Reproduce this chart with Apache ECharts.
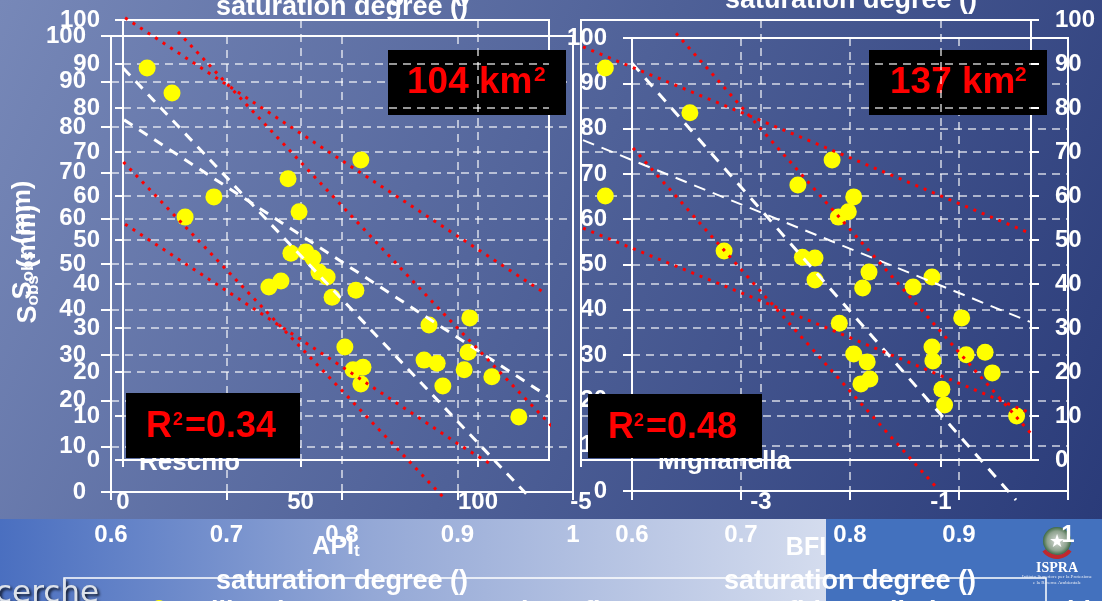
<!DOCTYPE html>
<html><head><meta charset="utf-8">
<script src="https://cdn.jsdelivr.net/npm/echarts@6/dist/echarts.min.js"></script>
<style>html,body{margin:0;padding:0;background:#2a3b78;overflow:hidden}#c{width:1102px;height:601px}</style>
</head><body><div id="c"></div>
<script>
// ---------- data ----------
// Reschio (left): API_t vs S_obs (mm)
const leftApi  = [6.8,13.8,17.5,25.6,46.5,49.6,67.0,47.3,51.5,53.5,55.2,57.5,44.5,41.1,58.9,65.6,62.5,64.8,67.6,67.0,86.2,97.7,84.8,88.5,97.2,96.1,90.1,103.9,111.5];
const leftSobs = [89.1,83.4,55.2,59.8,63.9,56.4,68.2,47.0,47.3,45.9,42.7,41.6,40.7,39.3,37.0,38.6,25.7,20.5,21.1,17.3,30.7,32.3,22.7,22.0,24.5,20.5,16.8,18.9,9.8];
// Miglianella (right): BFI vs S_obs (mm)
const rightBfi  = [-4.73,-3.79,-4.73,-3.41,-2.59,-2.21,-1.97,-2.03,-2.14,-2.54,-2.40,-2.40,-1.80,-1.87,-1.31,-1.10,-0.77,-2.13,-1.97,-1.82,-1.79,-1.89,-1.10,-1.09,-0.72,-0.51,-0.43,-0.99,-0.96,-0.16];
const rightSobs = [89.1,78.9,60.0,47.5,62.5,68.2,59.8,56.4,55.2,46.1,45.9,40.9,42.7,39.1,39.3,41.6,32.3,31.1,24.1,22.3,18.4,17.3,25.7,22.5,23.9,24.5,19.8,16.1,12.5,10.0];

// best-fit lines (white dashed) and 95% confidence limits (red dotted)
const leftFitA_x = [-3.4, 114.4],  leftFitA_y = [92.0, -8.4];
const leftFitB_x = [0.3, 120.0],   leftFitB_y = [77.3, 14.3];
const leftConf1_x = [0.6, 58.0, 118.3],        leftConf1_y = [100.5, 70.0, 38.2];
const leftConf2_x = [15.5, 47.6, 88.5, 125.9], leftConf2_y = [97.3, 69.8, 34.8, 3.4];
const leftConf3_x = [0.6, 55.5, 94.9, 103.9],  leftConf3_y = [53.6, 24.5, 3.4, -1.1];
const leftConf4_x = [-3.4, 25.4, 62.0, 90.4],  leftConf4_y = [70.7, 46.4, 15.5, -8.6];

const rightFitA_x = [-4.433, -0.167], rightFitA_y = [90.2, -9.1];
const rightFitB_x = [-4.978, -0.011], rightFitB_y = [72.7, 31.4];
const rightConf1_x = [-4.978, -2.478, -0.044], rightConf1_y = [93.9, 72.7, 51.8];
const rightConf2_x = [-3.944, -1.233, 0.389],  rightConf2_y = [97.0, 34.5, -3.0];
const rightConf3_x = [-4.978, -2.478, -0.011], rightConf3_y = [52.7, 31.8, 10.7];
const rightConf4_x = [-4.422, -2.789, -1.044], rightConf4_y = [70.9, 33.4, -6.4];

// axis ranges / tick steps
const satRange = [0.6, 1.0], satStep = 0.1;
const apiRange = [0, 120],   apiStep = 50;
const bfiRange = [-5, 0],    bfiStep = 2;
const sRange = [0, 100],     sStep = 10;

// text
const satName = 'saturation degree ()';
const areaLeft = '104 km', areaRight = '137 km';
const r2Left = '=0.34', r2Right = '=0.48';

// ---------- chart ----------
const FONT = '"Liberation Sans", Arial, sans-serif';
const pairs = (xs, ys) => xs.map((x, i) => [x, ys[i]]);
const gridLine = {show:true, showMinLine:false, showMaxLine:false,
  lineStyle:{color:'rgba(255,255,255,0.78)', width:1.5, type:[8,6]}};
const lbl = (margin, extra) => Object.assign({color:'#fff', fontSize:24, fontWeight:'bold', fontFamily:FONT, margin:margin}, extra || {});
const tick = len => ({show:true, inside:false, length:len, lineStyle:{color:'#fff', width:2}});
const noLine = {show:false, onZero:false};
const nameStyle = {color:'#fff', fontSize:27, fontWeight:'bold', fontFamily:FONT};
const sobsName = {
  name:'{s|S}{b|obs}{m| (mm)}', nameLocation:'middle', nameRotate:90,
  nameTextStyle:{color:'#fff', fontFamily:FONT, fontWeight:'bold', fontSize:26, rich:{
    s:{color:'#fff', fontFamily:FONT, fontWeight:'bold', fontSize:27, lineHeight:27, verticalAlign:'top'},
    b:{color:'#fff', fontFamily:FONT, fontWeight:'bold', fontSize:17, lineHeight:17, verticalAlign:'bottom'},
    m:{color:'#fff', fontFamily:FONT, fontWeight:'bold', fontSize:26, lineHeight:27, verticalAlign:'top'}
  }}
};

const gridBase = {show:true, borderColor:'#fff', borderWidth:2, backgroundColor:'transparent', containLabel:false, outerBoundsMode:'none'};

const dashWhite = (w, d) => ({color:'#fff', width:w, type:d, cap:'butt'});
const dotRed = {color:'#ff0000', width:3, type:[3,6], cap:'butt'};
function lineSeries(xi, xs, ys, style){
  return {type:'line', xAxisIndex:xi, yAxisIndex:xi, data:pairs(xs, ys), symbol:'none', clip:false,
    silent:true, z:6, lineStyle:style, animation:false};
}

function txt(x, y, text, font, fill, align, z, extra){
  return {type:'text', x:x, y:y, z:z || 0, silent:true, style:Object.assign({
    text:text, font:font, fill:fill, align:align || 'left', textAlign:align || 'left',
    verticalAlign:'middle', textVerticalAlign:'middle'}, extra || {})};
}
function box(x, y, w, h, z){
  return {type:'rect', z:z, silent:true, shape:{x:x, y:y, width:w, height:h}, style:{fill:'#000'}};
}

const G = echarts.graphic;
const option = {
  animation:false,
  backgroundColor:'#2a3b78',
  grid:[
    Object.assign({left:111, top:36, width:462, height:456}, gridBase),  // left saturation
    Object.assign({left:123, top:20, width:426, height:440}, gridBase),  // left API
    Object.assign({left:632, top:38, width:436, height:453}, gridBase),  // right saturation
    Object.assign({left:581, top:20, width:450, height:440}, gridBase)   // right BFI
  ],
  xAxis:[
    {gridIndex:0, type:'value', min:satRange[0], max:satRange[1], interval:satStep, z:1,
      axisLine:noLine, axisTick:tick(8), axisLabel:lbl(31), splitLine:gridLine,
      name:satName, nameLocation:'middle', nameGap:76, nameTextStyle:nameStyle},
    {gridIndex:1, type:'value', min:apiRange[0], max:apiRange[1], interval:apiStep, z:3,
      axisLine:noLine, axisTick:tick(7), axisLabel:lbl(30, {showMaxLabel:false}), splitLine:gridLine,
      name:'{a|API}{t|t}', nameLocation:'middle', nameGap:75,
      nameTextStyle:{color:'#fff', fontFamily:FONT, fontWeight:'bold', fontSize:25, rich:{
        a:{color:'#fff', fontFamily:FONT, fontWeight:'bold', fontSize:25, lineHeight:25, verticalAlign:'top'},
        t:{color:'#fff', fontFamily:FONT, fontWeight:'bold', fontSize:17, lineHeight:17, verticalAlign:'bottom', padding:[10,0,0,0]}
      }}},
    {gridIndex:2, type:'value', min:satRange[0], max:satRange[1], interval:satStep, z:1,
      axisLine:noLine, axisTick:tick(9), axisLabel:lbl(32), splitLine:gridLine,
      name:satName, nameLocation:'middle', nameGap:77, nameTextStyle:nameStyle},
    {gridIndex:3, type:'value', min:bfiRange[0], max:bfiRange[1], interval:bfiStep, z:3,
      axisLine:noLine, axisTick:tick(7), axisLabel:lbl(30, {showMaxLabel:false}), splitLine:gridLine,
      name:'BFI', nameLocation:'middle', nameGap:76, nameTextStyle:Object.assign({}, nameStyle, {fontSize:25})}
  ],
  yAxis:[
    Object.assign({gridIndex:0, type:'value', min:sRange[0], max:sRange[1], interval:sStep, z:1,
      axisLine:noLine, axisTick:tick(10), axisLabel:lbl(25), splitLine:gridLine, nameGap:63}, sobsName),
    Object.assign({gridIndex:1, type:'value', min:sRange[0], max:sRange[1], interval:sStep, z:3,
      axisLine:noLine, axisTick:tick(8), axisLabel:lbl(23), splitLine:gridLine, nameGap:86}, sobsName),
    {gridIndex:2, type:'value', min:sRange[0], max:sRange[1], interval:sStep, z:1,
      axisLine:noLine, axisTick:tick(9), axisLabel:lbl(25), splitLine:gridLine},
    {gridIndex:3, type:'value', position:'right', min:sRange[0], max:sRange[1], interval:sStep, z:3,
      axisLine:noLine, axisTick:tick(8), axisLabel:lbl(24), splitLine:gridLine}
  ],
  series:[
    {type:'scatter', xAxisIndex:1, yAxisIndex:1, data:pairs(leftApi, leftSobs), symbolSize:17, z:5,
      itemStyle:{color:'#ffff00', opacity:1}, silent:true},
    {type:'scatter', xAxisIndex:3, yAxisIndex:3, data:pairs(rightBfi, rightSobs), symbolSize:17, z:5,
      itemStyle:{color:'#ffff00', opacity:1}, silent:true},
    lineSeries(1, leftFitA_x, leftFitA_y, dashWhite(3, [10,8])),
    lineSeries(1, leftFitB_x, leftFitB_y, dashWhite(3, [10,8])),
    lineSeries(1, leftConf1_x, leftConf1_y, dotRed),
    lineSeries(1, leftConf2_x, leftConf2_y, dotRed),
    lineSeries(1, leftConf3_x, leftConf3_y, dotRed),
    lineSeries(1, leftConf4_x, leftConf4_y, dotRed),
    lineSeries(3, rightFitA_x, rightFitA_y, dashWhite(3, [11,9])),
    lineSeries(3, rightFitB_x, rightFitB_y, dashWhite(2, [12,8])),
    lineSeries(3, rightConf1_x, rightConf1_y, dotRed),
    lineSeries(3, rightConf2_x, rightConf2_y, dotRed),
    lineSeries(3, rightConf3_x, rightConf3_y, dotRed),
    lineSeries(3, rightConf4_x, rightConf4_y, dotRed)
  ],
  graphic:{elements:[
    // slide background and bottom band
    {type:'rect', z:-20, silent:true, shape:{x:0, y:0, width:1102, height:519},
      style:{fill:new G.LinearGradient(0, 0, 1, 1, [{offset:0, color:'#7788b8'}, {offset:0.5, color:'#4f6198'}, {offset:1, color:'#2a3b79'}])}},
    {type:'rect', z:-20, silent:true, shape:{x:0, y:519, width:826, height:82},
      style:{fill:new G.LinearGradient(0, 0, 1, 0, [{offset:0, color:'#4a6fc0'}, {offset:0.45, color:'#94a8d6'}, {offset:1, color:'#d4dcee'}])}},
    {type:'rect', z:-20, silent:true, shape:{x:826, y:519, width:276, height:82}, style:{fill:'#4371be'}},
    {type:'rect', z:-15, silent:true, shape:{x:64, y:578, width:982, height:40}, style:{fill:'none', stroke:'#fff', lineWidth:1.5}},
    txt(99, 594, 'Ricerche', '31px "DejaVu Sans", sans-serif', '#dde2ea', 'right', -14,
      {textShadowBlur:3, textShadowColor:'rgba(0,0,0,0.8)', textShadowOffsetX:2, textShadowOffsetY:2}),
    {type:'circle', z:-14, silent:true, shape:{cx:159, cy:608, r:8}, style:{fill:'#ffff00'}},
    txt(181, 613, 'calibration events', 'bold 27px ' + FONT, '#fff', 'left', -14),
    txt(521, 613, 'best fit', 'bold 27px ' + FONT, '#fff', 'left', -14),
    txt(740, 613, 'confidence limit at 95% with', 'bold 27px ' + FONT, '#fff', 'left', -14),
    // ISPRA logo
    {type:'circle', z:-12, silent:true, shape:{cx:1057, cy:541, r:14},
      style:{fill:new G.RadialGradient(0.5, 0.5, 0.5, [{offset:0, color:'#d9ddd9'}, {offset:0.7, color:'#8fa38f'}, {offset:1, color:'#3f6b46'}])}},
    txt(1057, 542, '★', '18px "DejaVu Sans", sans-serif', '#ffffff', 'center', -11),
    {type:'arc', z:-11, silent:true, shape:{cx:1057, cy:541, r:16, startAngle:Math.PI*0.2, endAngle:Math.PI*0.8},
      style:{stroke:'#c0282d', lineWidth:4, fill:null}},
    txt(1057, 568, 'ISPRA', 'bold 14px "Liberation Serif", serif', '#ffffff', 'center', -11),
    txt(1057, 577, 'Istituto Superiore per la Protezione', '5px "Liberation Serif", serif', '#e8ecf5', 'center', -11),
    txt(1057, 583, 'e la Ricerca Ambientale', '5px "Liberation Serif", serif', '#e8ecf5', 'center', -11),
    // titles at the top
    txt(345, -7, satName, 'bold 27px ' + FONT, '#fff', 'center', 4),
    txt(342, 8, satName, 'bold 27px ' + FONT, '#fff', 'center', 4),
    txt(851, 1, satName, 'bold 27px ' + FONT, '#fff', 'center', 4),
    // catchment area boxes
    box(388, 50, 178, 65, 2),
    txt(407, 83, areaLeft, 'bold 37px ' + FONT, '#ff0000', 'left', 2),
    txt(534, 75, '2', 'bold 21px ' + FONT, '#ff0000', 'left', 2),
    box(869, 50, 178, 65, 2),
    txt(890, 83, areaRight, 'bold 37px ' + FONT, '#ff0000', 'left', 2),
    txt(1015, 75, '2', 'bold 21px ' + FONT, '#ff0000', 'left', 2),
    // basin names
    txt(139, 463, 'Reschio', 'bold 26px ' + FONT, '#fff', 'left', 8),
    txt(658, 462, 'Miglianella', 'bold 26px ' + FONT, '#fff', 'left', 8),
    // R^2 boxes
    box(126, 393, 174, 65, 10),
    txt(146, 427, 'R', 'bold 36px ' + FONT, '#ff0000', 'left', 11),
    txt(173, 420, '2', 'bold 18px ' + FONT, '#ff0000', 'left', 11),
    txt(185, 427, r2Left, 'bold 36px ' + FONT, '#ff0000', 'left', 11),
    box(588, 394, 174, 64, 10),
    txt(608, 428, 'R', 'bold 36px ' + FONT, '#ff0000', 'left', 11),
    txt(634, 421, '2', 'bold 18px ' + FONT, '#ff0000', 'left', 11),
    txt(646, 428, r2Right, 'bold 36px ' + FONT, '#ff0000', 'left', 11)
  ]}
};
const chart = echarts.init(document.getElementById('c'), null, {renderer:'canvas'});
chart.setOption(option);
</script>
</body></html>
